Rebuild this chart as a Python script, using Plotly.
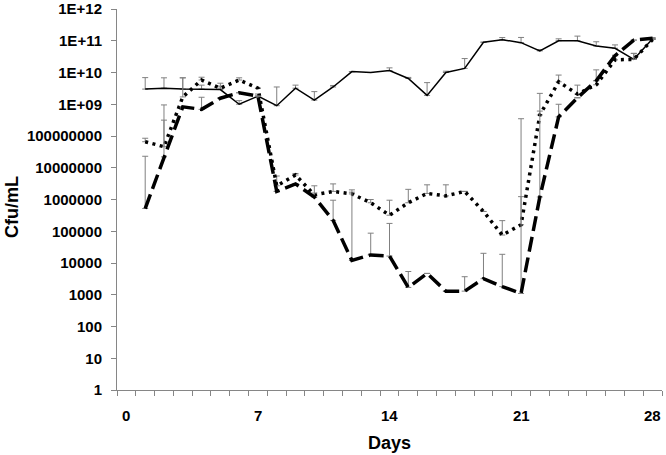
import plotly.graph_objects as go

days = list(range(1, 29))

# thin solid series
solid_cfu = [3.0e9, 3.2e9, 3.0e9, 3.0e9, 2.9e9, 1.0e9, 1.8e9, 9.0e8, 3.2e9, 1.35e9,
             3.5e9, 1.07e10, 1.0e10, 1.15e10, 6.5e9, 1.9e9, 1.0e10, 1.35e10, 9.0e10, 1.08e11,
             8.7e10, 4.8e10, 1.0e11, 1.0e11, 6.8e10, 5.8e10, 2.6e10, 1.15e11]
solid_err = [3.9e9, 3.6e9, 3.8e9, 1.0e9, 1.7e9, 3.0e8, 3.0e8, 2.6e9, 8.0e8, 1.15e9,
             4.0e8, 0, 0, 2.5e9, 5.0e8, 2.9e9, 1.0e9, 1.4e10, 0, 1.8e10,
             4.0e10, 5.0e9, 1.5e10, 4.0e10, 2.5e10, 1.6e10, 1.4e10, 1.0e10]

# dotted series
dotted_cfu = [6.6e7, 4.6e7, 1.7e9, 5.8e9, 3.2e9, 5.8e9, 3.2e9, 2.7e6, 5.9e6, 1.4e6,
              1.8e6, 1.5e6, 7.9e5, 3.2e5, 7.9e5, 1.55e6, 1.3e6, 1.8e6, 4.2e5, 7.6e4,
              1.6e5, 4.6e8, 5.1e9, 2.1e9, 4.1e9, 2.5e10, 2.6e10, 1.1e11]
dotted_err = [1.9e7, 2.7e8, 5.1e9, 1.3e9, 5.0e8, 1.0e9, 0, 2.8e6, 7.0e5, 1.3e6,
              1.3e6, 2.0e5, 2.1e5, 6.3e5, 1.3e6, 1.35e6, 1.6e6, 0, 0, 1.4e5,
              1.07e6, 1.5e8, 3.2e9, 1.9e9, 8.0e9, 1.0e10, 1.4e10, 0]

# thick dashed series
dashed_cfu = [5.2e5, 2.2e7, 8.3e8, 6.9e8, 1.55e9, 2.3e9, 1.8e9, 1.8e6, 3.1e6, 1.2e6,
              2.2e5, 1.2e4, 1.8e4, 1.65e4, 1.7e3, 4.7e3, 1.3e3, 1.3e3, 3.2e3, 1.8e3,
              1.1e3, 1.2e6, 4.0e8, 1.6e9, 5.5e9, 3.4e10, 1.05e11, 1.2e11]
dashed_err = [2.25e7, 9.3e8, 0, 9.7e8, 0, 0, 0, 0, 0, 4.0e5,
              7.3e5, 2.0e6, 6.9e4, 1.6e5, 3.7e3, 0, 0, 2.4e3, 1.7e4, 1.7e4,
              3.5e8, 2.2e9, 6.0e8, 0, 0, 0, 0, 0]

y_tickvals = [10 ** i for i in range(13)]
y_ticktext = ['1', '10', '100', '1000', '10000', '100000', '1000000', '10000000',
              '100000000', '1E+09', '1E+10', '1E+11', '1E+12']
x_labels = [0, 7, 14, 21, 28]

err_color = '#808080'
axis_color = '#868686'
font_family = 'Liberation Sans, Arial, sans-serif'

# small ticks sit between the days, like Excel's category boundaries
day_bounds = [d - 0.5 for d in range(30)]


def err_bar(vals):
    return dict(type='data', symmetric=False, array=vals, arrayminus=[0] * len(vals),
                color=err_color, thickness=1, width=3)


fig = go.Figure()
fig.add_trace(go.Scatter(x=days, y=solid_cfu, mode='lines',
                         line=dict(color='black', width=1.5),
                         error_y=err_bar(solid_err)))
fig.add_trace(go.Scatter(x=days, y=dotted_cfu, mode='lines',
                         line=dict(color='black', width=3.5, dash='3px,4.5px'),
                         error_y=err_bar(dotted_err)))
fig.add_trace(go.Scatter(x=days, y=dashed_cfu, mode='lines',
                         line=dict(color='black', width=3.5, dash='15px,6px'),
                         error_y=err_bar(dashed_err)))

# day labels go between the boundary ticks
annotations = [dict(text='<b>%d</b>' % d, x=d, xref='x', y=-0.068, yref='paper',
                    xanchor='center', yanchor='middle', showarrow=False,
                    font=dict(size=15, family=font_family)) for d in x_labels]
annotations += [
    dict(text='<b>Cfu/mL</b>', xref='paper', yref='paper', x=-0.193, y=0.48,
         xanchor='center', yanchor='middle',
         textangle=-90, showarrow=False, font=dict(size=18, family=font_family)),
    dict(text='<b>Days</b>', xref='paper', yref='paper', x=0.5, y=-0.139,
         xanchor='center', yanchor='middle',
         showarrow=False, font=dict(size=18, family=font_family)),
]

fig.update_layout(
    width=666, height=455,
    margin=dict(l=117, r=4, t=9, b=65, autoexpand=False),
    paper_bgcolor='white', plot_bgcolor='white',
    showlegend=False,
    font=dict(family=font_family, color='black'),
    xaxis=dict(range=[-0.5, 28.5], tickmode='array', tickvals=day_bounds,
               ticktext=[''] * len(day_bounds), automargin=False,
               ticks='outside', ticklen=5, tickwidth=1, tickcolor=axis_color,
               showline=True, linecolor=axis_color, linewidth=1,
               showgrid=False, zeroline=False),
    yaxis=dict(type='log', range=[0, 12], tickvals=y_tickvals, ticktext=y_ticktext,
               automargin=False,
               ticks='outside', ticklen=5, tickwidth=1, tickcolor=axis_color,
               ticklabelstandoff=6,
               showline=True, linecolor=axis_color, linewidth=1,
               showgrid=False, zeroline=False,
               tickfont=dict(size=15, family=font_family, weight='bold')),
    annotations=annotations,
)

# drop the browser's default body margin so the figure sits at the page origin
fig.write_html("out.html", config={'displayModeBar': False},
               post_script="document.body.style.margin='0';")
